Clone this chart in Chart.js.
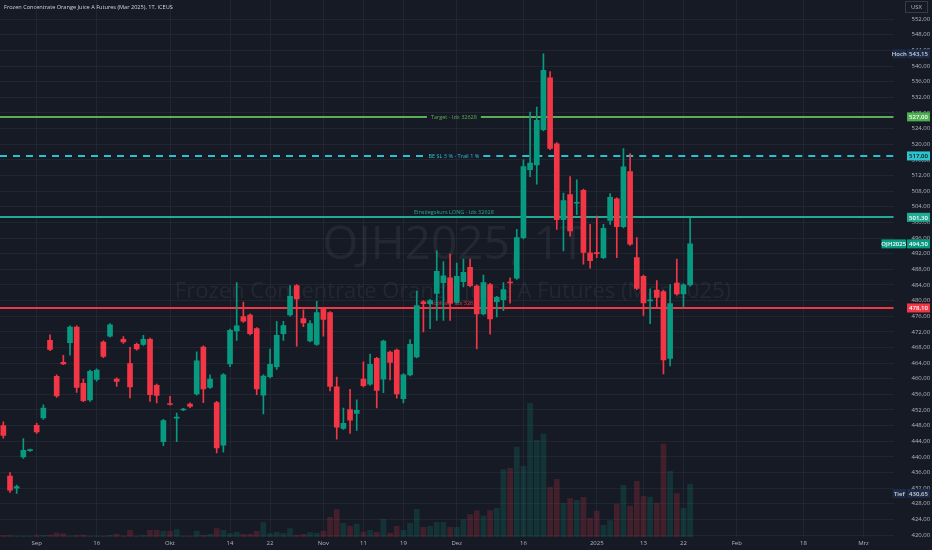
<!DOCTYPE html>
<html>
<head>
<meta charset="utf-8">
<script src="https://cdn.jsdelivr.net/npm/chart.js@4.4.1/dist/chart.umd.min.js"></script>
<style>
  html, body { margin: 0; padding: 0; background: #161a25; }
  #wrap { width: 932px; height: 550px; }
</style>
</head>
<body>
<div id="wrap"><canvas id="chart"></canvas></div>
<script>
// Handelstage (inkl. leere Zukunft bis Anfang März)
const dates = [
  '2024-08-26','2024-08-27','2024-08-28','2024-08-29','2024-08-30',
  '2024-09-03','2024-09-04','2024-09-05','2024-09-06',
  '2024-09-09','2024-09-10','2024-09-11','2024-09-12','2024-09-13',
  '2024-09-16','2024-09-17','2024-09-18','2024-09-19','2024-09-20',
  '2024-09-23','2024-09-24','2024-09-25','2024-09-26','2024-09-27','2024-09-30',
  '2024-10-01','2024-10-02','2024-10-03','2024-10-04',
  '2024-10-07','2024-10-08','2024-10-09','2024-10-10','2024-10-11',
  '2024-10-14','2024-10-15','2024-10-16','2024-10-17','2024-10-18',
  '2024-10-21','2024-10-22','2024-10-23','2024-10-24','2024-10-25',
  '2024-10-28','2024-10-29','2024-10-30','2024-10-31','2024-11-01',
  '2024-11-04','2024-11-05','2024-11-06','2024-11-07','2024-11-08',
  '2024-11-11','2024-11-12','2024-11-13','2024-11-14','2024-11-15',
  '2024-11-18','2024-11-19','2024-11-20','2024-11-21','2024-11-22',
  '2024-11-25','2024-11-26','2024-11-27','2024-11-29',
  '2024-12-02','2024-12-03','2024-12-04','2024-12-05','2024-12-06',
  '2024-12-09','2024-12-10','2024-12-11','2024-12-12','2024-12-13',
  '2024-12-16','2024-12-17','2024-12-18','2024-12-19','2024-12-20',
  '2024-12-23','2024-12-24','2024-12-26','2024-12-27','2024-12-30','2024-12-31',
  '2025-01-02','2025-01-03',
  '2025-01-06','2025-01-07','2025-01-08','2025-01-09','2025-01-10',
  '2025-01-13','2025-01-14','2025-01-15','2025-01-16','2025-01-17',
  '2025-01-21','2025-01-22','2025-01-23','2025-01-24',
  '2025-01-27','2025-01-28','2025-01-29','2025-01-30','2025-01-31',
  '2025-02-03','2025-02-04','2025-02-05','2025-02-06','2025-02-07',
  '2025-02-10','2025-02-11','2025-02-12','2025-02-13','2025-02-14',
  '2025-02-18','2025-02-19','2025-02-20','2025-02-21',
  '2025-02-24','2025-02-25','2025-02-26','2025-02-27','2025-02-28',
  '2025-03-03','2025-03-04','2025-03-05','2025-03-06','2025-03-07'
];

const open = [
  448.0, 435.1, 432.0, 440.0, 441.6, 448.1, 450.0, 469.8, 460.6, 464.2,
  469.2, 473.2, 458.8, 454.6, 459.8, 469.4, 470.9, 459.9, 470.1, 463.9,
  468.8, 468.8, 470.1, 458.3, 443.9, 453.6, 449.9, 452.0, 453.5, 456.1,
  468.1, 457.8, 453.9, 443.0, 463.8, 472.2, 475.9, 476.3, 472.8, 455.8,
  460.5, 463.1, 471.5, 476.3, 483.8, 475.4, 469.7, 468.8, 477.9, 476.9,
  457.9, 447.3, 452.1, 451.1, 459.9, 458.6, 465.2, 459.9, 466.8, 467.3,
  454.9, 461.0, 465.6, 479.7, 479.2, 481.8, 484.6, 485.8, 479.6, 484.8,
  488.5, 483.7, 476.6, 484.1, 479.7, 480.2, 484.7, 485.7, 496.1, 513.5,
  514.7, 523.7, 537.0, 520.1, 500.7, 507.1, 504.9, 508.2, 492.2, 492.2,
  491.0, 500.5, 506.0, 498.9, 513.0, 491.0, 486.2, 479.9, 482.7, 482.3,
  465.2, 484.5, 481.7, 484.0
];
const high = [
  449.0, 436.0, 432.8, 444.7, 442.0, 448.6, 453.3, 471.2, 461.0, 466.0,
  473.5, 473.5, 459.9, 462.2, 462.5, 469.7, 474.1, 460.2, 470.8, 468.0,
  469.1, 471.1, 470.4, 458.6, 449.6, 455.5, 451.2, 452.4, 453.8, 466.9,
  468.4, 461.0, 454.2, 461.3, 472.7, 484.6, 479.6, 476.6, 473.1, 461.0,
  467.6, 474.7, 474.7, 483.8, 484.1, 477.6, 474.9, 479.8, 478.2, 477.2,
  460.4, 452.5, 457.3, 454.6, 464.3, 466.3, 465.5, 469.9, 467.1, 467.6,
  461.3, 470.0, 482.4, 480.0, 480.3, 492.7, 490.0, 491.9, 489.6, 490.6,
  490.6, 484.0, 486.5, 484.4, 481.1, 484.6, 485.8, 498.2, 516.0, 528.2,
  529.5, 543.15, 538.6, 520.4, 507.5, 511.7, 510.9, 508.5, 499.5, 501.6,
  499.5, 507.4, 506.3, 518.9, 517.6, 496.1, 486.5, 483.0, 485.1, 482.6,
  484.1, 490.6, 484.3, 501.1
];
const low = [
  444.8, 430.9, 430.65, 439.6, 441.4, 446.0, 449.6, 467.2, 455.2, 463.6,
  466.0, 456.5, 454.1, 454.2, 459.4, 465.4, 470.6, 458.0, 469.0, 455.1,
  467.3, 468.5, 454.2, 453.8, 442.9, 453.2, 443.9, 451.8, 452.6, 455.8,
  453.9, 457.5, 441.0, 441.2, 463.1, 469.8, 474.4, 471.2, 455.9, 451.0,
  460.2, 462.4, 469.8, 476.0, 468.3, 473.3, 469.4, 468.5, 470.9, 456.9,
  444.5, 447.0, 446.0, 446.8, 457.9, 458.3, 452.5, 456.4, 459.7, 455.0,
  453.8, 460.7, 465.3, 472.0, 472.8, 474.9, 474.9, 474.9, 479.3, 483.5,
  483.5, 467.6, 476.3, 471.4, 475.8, 477.4, 479.3, 485.4, 495.8, 511.7,
  509.8, 523.4, 518.6, 498.2, 492.7, 496.5, 502.0, 489.3, 488.3, 491.0,
  490.7, 499.5, 491.0, 498.6, 494.1, 482.8, 476.2, 474.1, 478.4, 461.2,
  463.3, 481.4, 478.3, 483.7
];
const close = [
  445.5, 431.5, 432.4, 441.7, 441.8, 446.4, 452.5, 467.5, 455.6, 463.8,
  473.2, 457.8, 454.4, 461.9, 462.2, 465.7, 473.8, 459.3, 469.4, 457.9,
  467.6, 470.1, 455.9, 455.7, 449.3, 453.4, 450.1, 452.2, 452.9, 464.6,
  457.4, 459.9, 442.3, 461.0, 472.4, 473.5, 474.7, 471.5, 457.4, 460.7,
  463.7, 471.1, 473.6, 481.1, 480.4, 474.3, 474.1, 476.9, 475.2, 458.0,
  447.6, 448.6, 449.4, 451.9, 458.2, 463.7, 457.0, 469.6, 464.2, 456.1,
  461.0, 468.8, 478.7, 479.2, 480.0, 487.5, 486.3, 479.3, 486.2, 487.2,
  483.8, 476.6, 484.6, 475.3, 480.8, 482.8, 484.5, 496.1, 514.3, 515.2,
  526.1, 538.9, 518.9, 500.7, 505.6, 497.8, 505.1, 492.3, 490.2, 492.0,
  498.5, 506.4, 498.9, 514.2, 494.4, 483.1, 479.4, 480.1, 480.8, 464.8,
  479.2, 481.7, 484.0, 494.5
];
const volume = [
  34, 34, 20, 20, 20, 34, 40, 46, 86, 74,
  26, 34, 46, 20, 20, 20, 40, 66, 26, 140,
  26, 34, 140, 140, 120, 120, 154, 20, 20, 126,
  40, 60, 174, 140, 74, 106, 60, 60, 120, 294,
  74, 106, 80, 174, 46, 60, 94, 80, 126, 400,
  554, 280, 226, 266, 106, 140, 106, 360, 86, 220,
  140, 280, 560, 200, 220, 300, 300, 200, 200, 354,
  454, 534, 426, 534, 580, 1354, 1380, 1806, 1420, 2680,
  1940, 2066, 1000, 1160, 680, 774, 740, 800, 380, 526,
  240, 334, 666, 1040, 626, 1120, 820, 806, 686, 1866,
  1320, 874, 580, 1066
];

const priceTicks = [420, 424, 428, 432, 436, 440, 444, 448, 452, 456, 460, 464, 468, 472, 476, 480,
  484, 488, 492, 496, 500, 504, 508, 512, 516, 520, 524, 528, 532, 536, 540, 544, 548, 552];
const tickDates = ['2024-09-03','2024-09-16','2024-10-01','2024-10-14','2024-10-22','2024-11-01',
  '2024-11-11','2024-11-19','2024-12-02','2024-12-16','2025-01-02','2025-01-13','2025-01-22',
  '2025-02-03','2025-02-18','2025-03-03'];
const tickText = ['Sep','16','Okt','14','22','Nov','11','19','Dez','16','2025','13','22','Feb','18','Mrz'];

const levelValues = [527, 517, 501.3, 478.1];
const levelTexts = ['Target - Idx 32628', 'BE SL 3 % - Trail 1 %', 'Einstiegskurs LONG - Idx 32628', 'Stoploss - Idx 32628'];
const highValue = 543.15;
const lowValue = 430.65;
const lastValue = 494.5;

const titleText = 'Frozen Concentrate Orange Juice A Futures (Mar 2025), 1T, ICEUS';
const symbolText = 'OJH2025, 1T';
const nameText = 'Frozen Concentrate Orange Juice A Futures (Mar 2025)';

// Styles
const bg = '#161a25';
const up = '#089981';
const down = '#f23645';
const levelStyle = [
  { color: '#5cad5a', dash: [], mode: 'gap', box: '#4caf50', text: '#ffffff' },
  { color: '#26c2d0', dash: [7, 6], mode: 'gap', box: '#2cc3cc', text: '#10141c' },
  { color: '#22ab94', dash: [], mode: 'above', box: '#22ab94', text: '#ffffff' },
  { color: '#f23645', dash: [], mode: 'above', box: '#f23645', text: '#ffffff' }
];
const FONT = '"Open Sans", "DejaVu Sans", sans-serif';
const fmt = v => v.toFixed(2).replace('.', ',');

const isUp = open.map((o, i) => close[i] >= o);
const candleColors = isUp.map(u => u ? up : down);
const volColors = isUp.map(u => u ? 'rgba(8,153,129,0.2)' : 'rgba(242,54,69,0.2)');

function drawBox(ctx, x1, x2, yc, fill, text, color) {
  ctx.fillStyle = fill;
  ctx.fillRect(x1, yc - 4.5, x2 - x1, 9);
  ctx.fillStyle = color;
  ctx.textAlign = 'center';
  ctx.textBaseline = 'middle';
  ctx.fillText(text, (x1 + x2) / 2, yc + 0.5);
}

const overlay = {
  id: 'overlay',
  beforeDraw(chart) {
    const { ctx, width, height } = chart;
    ctx.save();
    ctx.fillStyle = bg;
    ctx.fillRect(0, 0, width, height);
    ctx.restore();
  },
  beforeDatasetsDraw(chart) {
    const { ctx, chartArea: a, scales: { y } } = chart;
    const cx = a.left + a.width * 0.508;
    ctx.save();
    // Wasserzeichen
    ctx.textAlign = 'center';
    ctx.textBaseline = 'middle';
    ctx.fillStyle = 'rgba(178,181,190,0.085)';
    ctx.font = '46px ' + FONT;
    ctx.fillText(symbolText, cx, 246);
    ctx.font = '22px ' + FONT;
    ctx.fillText(nameText, cx - 1, 292);
    // horizontale Linien
    ctx.font = '5.5px ' + FONT;
    levelValues.forEach((v, i) => {
      const st = levelStyle[i];
      const py = Math.round(y.getPixelForValue(v));
      const tw = ctx.measureText(levelTexts[i]).width;
      ctx.strokeStyle = st.color;
      ctx.lineWidth = 2;
      ctx.setLineDash(st.dash);
      ctx.beginPath();
      if (st.mode === 'gap') {
        ctx.moveTo(a.left, py); ctx.lineTo(cx - tw / 2 - 4, py);
        ctx.moveTo(cx + tw / 2 + 4, py); ctx.lineTo(a.right, py);
      } else {
        ctx.moveTo(a.left, py); ctx.lineTo(a.right, py);
      }
      ctx.stroke();
      ctx.setLineDash([]);
      ctx.fillStyle = st.color;
      ctx.fillText(levelTexts[i], cx, st.mode === 'gap' ? py : py - 5);
    });
    ctx.restore();
  },
  afterDraw(chart) {
    const { ctx, chartArea: a, scales: { y }, width } = chart;
    const vx1 = a.right + 13.5, vx2 = width - 2;
    ctx.save();
    ctx.font = '600 6px ' + FONT;
    levelValues.forEach((v, i) => {
      drawBox(ctx, vx1, vx2, y.getPixelForValue(v), levelStyle[i].box, fmt(v), levelStyle[i].text);
    });
    const yl = y.getPixelForValue(lastValue);
    drawBox(ctx, a.right - 12, vx1 - 1, yl, up, 'OJH2025', '#ffffff');
    drawBox(ctx, vx1, vx2, yl, up, fmt(lastValue), '#ffffff');
    const yh = y.getPixelForValue(highValue);
    drawBox(ctx, a.right - 1, vx1 - 1, yh, '#1c2b45', 'Hoch', '#d1d4dc');
    drawBox(ctx, vx1, vx2, yh, '#1c2b45', fmt(highValue), '#d1d4dc');
    const yt = y.getPixelForValue(lowValue);
    drawBox(ctx, a.right - 1, vx1 - 1, yt, '#1c2b45', 'Tief', '#d1d4dc');
    drawBox(ctx, vx1, vx2, yt, '#1c2b45', fmt(lowValue), '#d1d4dc');
    // USX
    ctx.strokeStyle = '#363a45';
    ctx.lineWidth = 1;
    ctx.strokeRect(905.5, 1.5, 22, 11);
    ctx.fillStyle = '#b2b5be';
    ctx.font = '6px ' + FONT;
    ctx.textAlign = 'center';
    ctx.textBaseline = 'middle';
    ctx.fillText('USX', 916.5, 7.5);
    // Titel
    ctx.textAlign = 'left';
    ctx.fillStyle = '#d1d4dc';
    ctx.font = '5.6px ' + FONT;
    ctx.fillText(titleText, 4, 7.5);
    ctx.restore();
  }
};

new Chart(document.getElementById('chart').getContext('2d'), {
  type: 'bar',
  data: {
    labels: dates,
    datasets: [
      {
        // Kerzenkörper
        data: open.map((o, i) => [o, close[i]]),
        backgroundColor: candleColors,
        barThickness: 5,
        minBarLength: 1,
        grouped: false,
        yAxisID: 'y',
        order: 1
      },
      {
        // Dochte
        data: low.map((l, i) => [l, high[i]]),
        backgroundColor: candleColors,
        barThickness: 1,
        grouped: false,
        yAxisID: 'y',
        order: 2
      },
      {
        // Volumen
        data: volume,
        backgroundColor: volColors,
        barPercentage: 0.86,
        categoryPercentage: 1,
        grouped: false,
        yAxisID: 'vol',
        order: 3
      }
    ]
  },
  options: {
    responsive: true,
    maintainAspectRatio: false,
    animation: false,
    events: [],
    layout: { padding: 0 },
    plugins: {
      legend: { display: false },
      tooltip: { enabled: false }
    },
    scales: {
      x: {
        offset: true,
        afterFit: s => { s.height = 13; },
        afterBuildTicks: s => { s.ticks = tickDates.map(d => ({ value: dates.indexOf(d) })); },
        grid: { offset: false, color: 'rgba(54,58,72,0.35)', drawTicks: false },
        border: { display: false },
        ticks: {
          autoSkip: false,
          maxRotation: 0,
          padding: 3,
          color: '#b2b5be',
          font: { size: 6, family: FONT },
          callback: v => tickText[tickDates.indexOf(dates[v])] || ''
        }
      },
      y: {
        position: 'right',
        min: 419.5,
        max: 556.9,
        afterFit: s => { s.width = 38.5; s.paddingTop = 0; s.paddingBottom = 0; },
        afterBuildTicks: s => { s.ticks = priceTicks.map(v => ({ value: v })); },
        grid: { color: 'rgba(54,58,72,0.35)', drawTicks: true, tickLength: 18, tickColor: 'rgba(0,0,0,0)' },
        border: { display: false },
        ticks: {
          padding: 0,
          color: '#b2b5be',
          font: { size: 6, family: FONT },
          callback: v => fmt(v)
        }
      },
      vol: {
        display: false,
        min: 0,
        max: 10740
      }
    }
  },
  plugins: [overlay]
});
</script>
</body>
</html>
